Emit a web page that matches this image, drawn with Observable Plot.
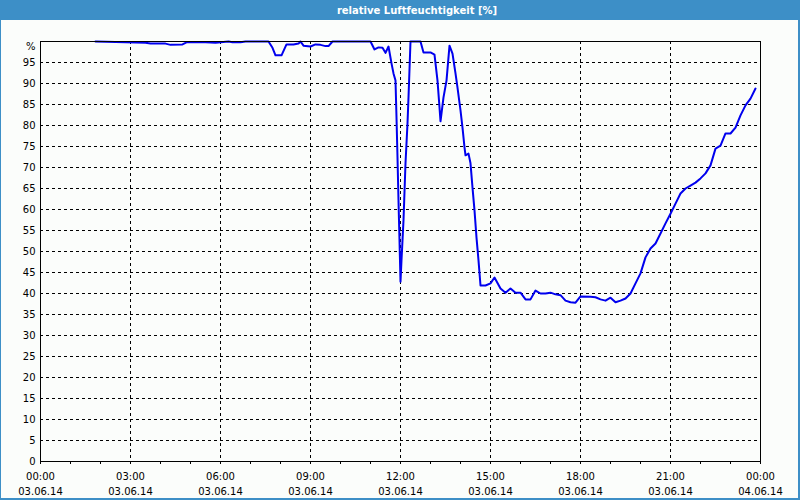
<!DOCTYPE html>
<html>
<head>
<meta charset="utf-8">
<script src="https://cdn.jsdelivr.net/npm/d3@7"></script>
<script src="https://cdn.jsdelivr.net/npm/@observablehq/plot@0.6"></script>
<style>
  html, body { margin: 0; padding: 0; background: #fbfdfb; }
  #wrap { position: relative; width: 800px; height: 500px; background: #fbfdfb; overflow: hidden; }
  #title { position: absolute; left: 0; top: 0; width: 800px; height: 20px; background: #3d8fc7; color: #fff;
           font: bold 10px "DejaVu Sans", sans-serif; line-height: 21px; text-align: center; padding-left: 34px; box-sizing: border-box; }
  #chart { position: absolute; left: 0; top: 20px; }
  .b { position: absolute; background: #3d8fc7; }
</style>
</head>
<body>
<div id="wrap">
  <div id="title">relative Luftfeuchtigkeit [%]</div>
  <div id="chart"></div>
  <div class="b" style="left:0;top:20px;width:1px;height:480px"></div>
  <div class="b" style="left:798px;top:20px;width:2px;height:480px"></div>
  <div class="b" style="left:0;top:498px;width:800px;height:2px"></div>
</div>
<script>
// Time of day (HH:MM) and relative humidity [%]
const times = [
  "01:50","03:30","03:40","04:10","04:20","04:44","04:52","05:20","05:50","06:16",
  "06:24","06:40","06:50","07:36","07:44","07:50","08:02","08:12","08:26","08:36",
  "08:40","08:46","09:00","09:10","09:20","09:30","09:36","09:44","11:00","11:08",
  "11:16","11:24","11:30","11:36","11:42","11:46","11:50","11:52","11:54","11:56",
  "11:58","12:00","12:02","12:06","12:10","12:14","12:16","12:20","12:40","12:46",
  "13:00","13:08","13:14","13:18","13:20","13:26","13:32","13:38","13:44","13:50",
  "13:54","14:00","14:04","14:08","14:10","14:16","14:20","14:24","14:28","14:32",
  "14:36","14:40","14:50","15:00","15:08","15:20","15:30","15:40","15:50","16:00",
  "16:10","16:20","16:30","16:40","16:50","17:00","17:10","17:20","17:30","17:40",
  "17:50","18:00","18:20","18:30","18:40","18:50","19:00","19:10","19:20","19:30",
  "19:40","19:50","20:00","20:10","20:20","20:30","20:40","20:50","21:00","21:10",
  "21:20","21:30","21:40","21:50","22:00","22:10","22:20","22:30","22:40","22:50",
  "23:00","23:10","23:20","23:30","23:40","23:50"
];
const humidity = [
  100,99.7,99.5,99.5,99.2,99.3,99.8,99.9,99.7,100,
  99.8,99.8,100,100,98.5,96.7,96.7,99.3,99.3,99.5,
  100,99,98.8,99.3,99.2,98.9,98.9,100,100,98.1,
  98.6,98.5,97.3,98.8,94.8,92.4,90.7,81.9,72.4,62.1,
  52.6,42.8,47.9,57.4,71,80.5,86.7,100,100,97.4,
  97.4,96.9,90.7,84.3,81,86.7,90.7,99,97.1,92.4,
  89,83.6,79.5,74.8,72.9,73.3,71,65.2,59.8,53.3,
  47.9,41.9,41.9,42.4,43.8,41.2,40.2,41.2,40.2,40.2,
  38.6,38.6,40.7,40,40,40.2,39.8,39.6,38.3,37.9,
  37.8,39.3,39.2,39.1,38.6,38.3,39,37.9,38.3,38.8,
  40,42.4,44.8,48.6,50.7,51.9,54.3,56.7,59,61.4,
  63.8,65,65.7,66.4,67.4,68.6,70.5,74.5,75.2,78.1,
  78.1,79.5,82.4,84.8,86.4,88.8
];
const xTickHours = [0, 3, 6, 9, 12, 15, 18, 21, 24];
const xTimeLabels = ["00:00","03:00","06:00","09:00","12:00","15:00","18:00","21:00","00:00"];
const xDateLabels = ["03.06.14","03.06.14","03.06.14","03.06.14","03.06.14","03.06.14","03.06.14","03.06.14","04.06.14"];
const xMinorTicks = [0,1,2,3,4,5,6,7,8,9,10,11,12,13,14,15,16,17,18,19,20,21,22,23,24];
const yTicks = [0,5,10,15,20,25,30,35,40,45,50,55,60,65,70,75,80,85,90,95];
const yTopLabel = "%";

const data = times.map((t, i) => {
  const [hh, mm] = t.split(":").map(Number);
  return { h: hh + mm / 60, v: humidity[i] };
});

const dash = { stroke: "black", strokeOpacity: 1, strokeDasharray: "3,3" };

const chart = Plot.plot({
  width: 800,
  height: 480,
  marginTop: 21,
  marginLeft: 40,
  marginRight: 40,
  marginBottom: 39,
  style: { background: "transparent", fontFamily: "DejaVu Sans, sans-serif", fontSize: "10px", color: "black" },
  x: { domain: [0, 24] },
  y: { domain: [0, 100] },
  marks: [
    Plot.gridY(yTicks.filter(d => d > 0), dash),
    Plot.gridX(xTickHours.filter(d => d > 0 && d < 24), dash),
    Plot.line(data, { x: "h", y: "v", stroke: "#0000ee", strokeWidth: 2 }),
    Plot.frame({ stroke: "black" }),
    Plot.axisY(yTicks, { tickSize: 0, tickPadding: 5, label: null, fill: "black" }),
    Plot.axisY([100], { tickSize: 0, tickPadding: 5, label: null, tickFormat: () => yTopLabel, dy: 5, fill: "black" }),
    Plot.axisX(xMinorTicks, { tickSize: 3, tickFormat: () => "", label: null, stroke: "black" }),
    Plot.axisX(xTickHours, {
      tickSize: 0, tickPadding: 8, label: null, lineHeight: 1.5, fill: "black",
      tickFormat: d => xTimeLabels[xTickHours.indexOf(d)] + "\n" + xDateLabels[xTickHours.indexOf(d)]
    })
  ]
});
document.getElementById("chart").appendChild(chart);
</script>
</body>
</html>
